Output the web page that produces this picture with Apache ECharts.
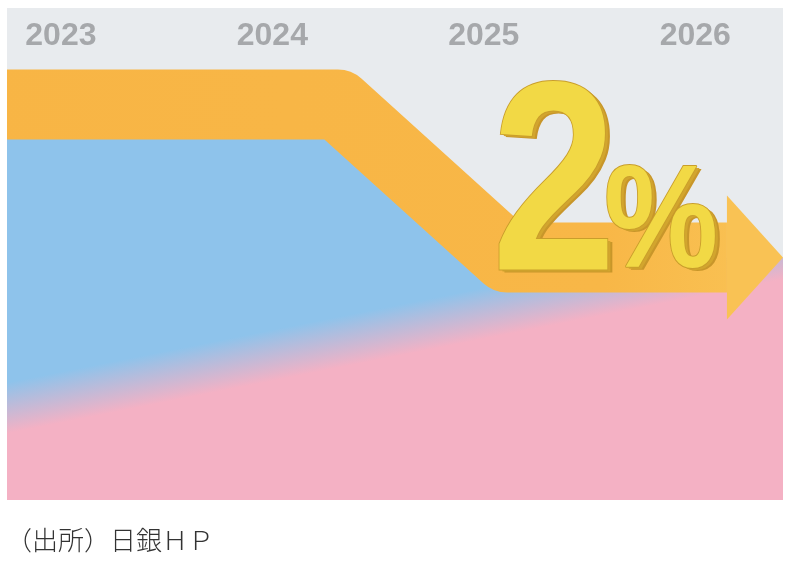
<!DOCTYPE html>
<html lang="ja">
	<head>
		<meta charset="UTF-8">
		<title>2%</title>
		<script src="https://cdn.jsdelivr.net/npm/echarts@6/dist/echarts.min.js"></script>
		<style>
			html, body { margin: 0; padding: 0; background: #fff; }
			#main { width: 792px; height: 571px; }
		</style>
	</head>
	<body>
		<div id="main"></div>
		<script>
			// 年の目盛
			var yearTicks = [2023, 2024, 2025, 2026];
			// 矢印（オレンジの帯）の中心線
			var bandX = [2022.745, 2024.31, 2025.11, 2026.15];
			var bandY = [80.4, 80.4, 49.3, 49.3];
			// 青い領域の上端
			var blueX = [2022.745, 2024.31, 2025.11, 2026.415];
			var blueY = [80.4, 80.4, 49.3, 49.3];
			// 青とピンクの境目
			var pinkX = [2022.745, 2026.415];
			var pinkY = [18.7, 50.0];
			// 目標
			var targetRate = 2;

			function pairs(xs, ys) {
				return xs.map(function (x, i) { return [x, ys[i]]; });
			}

			var chart = echarts.init(document.getElementById('main'));
			var last = bandX.length - 1;
			var headLen = 56;

			var option = {
				animation: false,
				grid: {
					left: 7, right: 9, top: 8, bottom: 71,
					show: true, backgroundColor: '#E8EBEE', borderWidth: 0
				},
				title: {
					text: '（出所）日銀ＨＰ',
					left: 6, top: 527, padding: 0,
					textStyle: {
						fontFamily: '"Noto Sans CJK JP"', fontSize: 26,
						fontWeight: 300, color: '#333'
					}
				},
				xAxis: {
					type: 'value', position: 'top',
					min: 2022.745, max: 2026.415,
					axisLine: { show: false }, axisTick: { show: false }, splitLine: { show: false },
					axisLabel: {
						inside: true, margin: 28, verticalAlign: 'middle',
						customValues: yearTicks,
						formatter: function (v) { return String(v); },
						fontFamily: '"Liberation Sans", Arial, sans-serif',
						fontSize: 32, fontWeight: 'bold', color: '#A6A8AB'
					}
				},
				yAxis: { type: 'value', min: 0, max: 100, show: false },
				series: [
					{
						id: 'blue', type: 'line', z: 1, silent: true,
						data: pairs(blueX, blueY),
						symbol: 'none', lineStyle: { width: 0 },
						areaStyle: { color: '#8EC3EB', opacity: 1 }
					},
					{
						id: 'band', type: 'line', z: 3, silent: true,
						data: pairs(bandX, bandY),
						symbol: 'none',
						lineStyle: {
							width: 70, join: 'round', cap: 'butt',
							color: new echarts.graphic.LinearGradient(0, 0, 1, 0, [
								{ offset: 0, color: '#F8B545' },
								{ offset: 0.8, color: '#F8B747' },
								{ offset: 1, color: '#F9C254' }
							])
						}
					},
					{
						id: 'head', type: 'scatter', z: 4, silent: true,
						data: [[bandX[last], bandY[last]]],
						symbol: 'triangle', symbolSize: [124, headLen],
						symbolRotate: -90, symbolOffset: [headLen / 2, 0],
						itemStyle: { color: '#F9C254', opacity: 1 }
					}
				],
				graphic: [
					{ type: 'text', x: 559, y: 198, scaleX: 0.83, z: 100, silent: true,
						style: { text: String(targetRate), font: 'bold 270px "Liberation Sans"', fill: '#C8962A', textAlign: 'center', textVerticalAlign: 'middle' } },
					{ type: 'text', x: 557, y: 197, scaleX: 0.83, z: 101, silent: true,
						style: { text: String(targetRate), font: 'bold 270px "Liberation Sans"', fill: '#D2A52E', textAlign: 'center', textVerticalAlign: 'middle' } },
					{ type: 'text', x: 554, y: 195, scaleX: 0.83, z: 102, silent: true,
						style: { text: String(targetRate), font: 'bold 270px "Liberation Sans"', fill: '#F2D945', stroke: '#C99E2B', lineWidth: 2, textAlign: 'center', textVerticalAlign: 'middle' } },
					{ type: 'text', x: 666, y: 230, scaleX: 0.88, z: 100, silent: true,
						style: { text: '%', font: 'bold 146px "Liberation Sans"', fill: '#C8962A', textAlign: 'center', textVerticalAlign: 'middle' } },
					{ type: 'text', x: 664, y: 229, scaleX: 0.88, z: 101, silent: true,
						style: { text: '%', font: 'bold 146px "Liberation Sans"', fill: '#D2A52E', textAlign: 'center', textVerticalAlign: 'middle' } },
					{ type: 'text', x: 661, y: 227, scaleX: 0.88, z: 102, silent: true,
						style: { text: '%', font: 'bold 146px "Liberation Sans"', fill: '#F2D945', stroke: '#C99E2B', lineWidth: 2, textAlign: 'center', textVerticalAlign: 'middle' } }
				]
			};
			chart.setOption(option);

			// 青→ピンクのぼかし：境目の線に垂直なグラデーション
			var p0 = chart.convertToPixel({ gridIndex: 0 }, [pinkX[0], pinkY[0]]);
			var p1 = chart.convertToPixel({ gridIndex: 0 }, [pinkX[1], pinkY[1]]);
			var dx = p1[0] - p0[0], dy = p1[1] - p0[1];
			var len = Math.sqrt(dx * dx + dy * dy);
			var nx = -dy / len, ny = dx / len;
			var mx = (p0[0] + p1[0]) / 2, my = (p0[1] + p1[1]) / 2;
			var fade = 25;
			// 矢じりの色：付け根から先端へ
			var hb = chart.convertToPixel({ gridIndex: 0 }, [bandX[last], bandY[last]]);
			chart.setOption({
				series: [{
					id: 'blue',
					areaStyle: {
						color: new echarts.graphic.LinearGradient(
							mx - nx * fade, my - ny * fade, mx + nx * fade, my + ny * fade,
							[{ offset: 0, color: '#8EC3EB' }, { offset: 1, color: '#F4B1C4' }], true)
					}
				}, {
					id: 'head',
					itemStyle: {
						color: new echarts.graphic.LinearGradient(
							hb[0], 0, hb[0] + headLen, 0,
							[{ offset: 0, color: '#F9C254' }, { offset: 1, color: '#FCDE72' }], true)
					}
				}]
			});
		</script>
	</body>
</html>
